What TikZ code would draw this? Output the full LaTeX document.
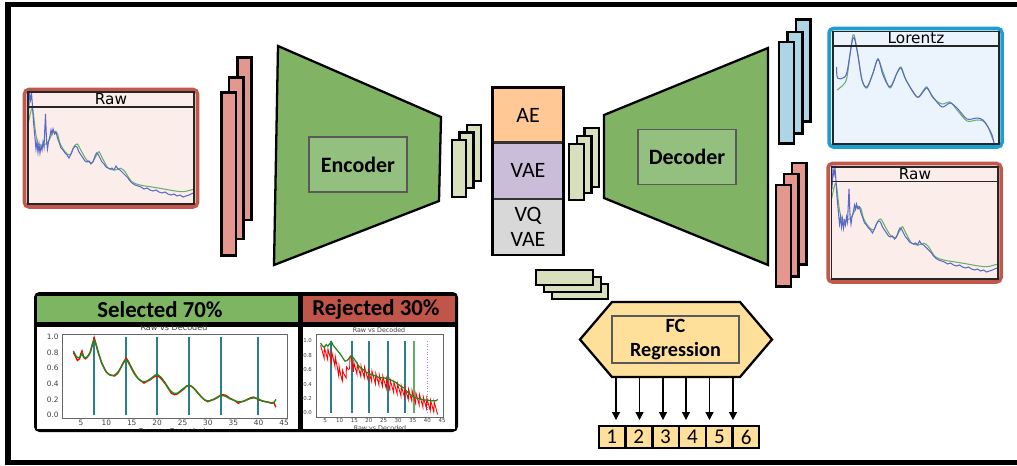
\documentclass[tikz,border=0pt]{standalone}
\usepackage{fontspec}
\setmainfont{Carlito}
\newfontfamily\plotfont{DejaVu Sans}
\usetikzlibrary{arrows.meta}
\definecolor{encgreen}{HTML}{80B464}
\definecolor{innergreen}{HTML}{93C07E}
\definecolor{redlay}{HTML}{E3978F}
\definecolor{bluelay}{HTML}{ADD5E5}
\definecolor{smallgreen}{HTML}{D7DFBD}
\definecolor{aecol}{HTML}{FFC894}
\definecolor{vaecol}{HTML}{CABDDA}
\definecolor{vqcol}{HTML}{D8D8D8}
\definecolor{fccol}{HTML}{FFE09A}
\definecolor{rawborder}{HTML}{C2574B}
\definecolor{rawfill}{HTML}{FAEDEA}
\definecolor{lorborder}{HTML}{1C9FCE}
\definecolor{lorfill}{HTML}{EBF3FD}
\definecolor{selgreen}{HTML}{7DB562}
\definecolor{rejred}{HTML}{C0554A}
\definecolor{specblue}{HTML}{5A68C8}
\definecolor{specgreen}{HTML}{6CAF6C}
\definecolor{vteal}{HTML}{2A7F8A}
\definecolor{mplgreen}{HTML}{1E8A1E}

\newcommand\rawspectrum{%
  \draw[spec,specgreen] plot[smooth,tension=0.5] coordinates {(0.3,31.3) (4.3,16.3) (7.7,41.3) (10.3,52) (15.3,53) (20.3,49.7) (25.3,39.7) (29.3,41.3) (32,51.3) (37,59.7) (42,63) (46,54.7) (49.3,52) (53.7,59.7) (58.7,68) (63.7,70.7) (68.7,63) (71,59.7) (75.3,68) (80.3,76.3) (87,78) (92.7,76.3) (97,79.7) (103.7,89.7) (112,93) (122,94.7) (132,96.3) (145.3,98.7) (155.3,99.7) (165.3,97.3)};
  \draw[spec,specblue] plot coordinates {(0.5,22) (1.5,2) (2.5,8) (3.5,1) (4.5,14) (5.5,30) (7,46) (8,57) (9,50) (10,60) (11,52) (12,61) (13,54) (14,58) (15,50) (16,55) (17.5,22) (18.5,48) (19.5,57) (20.5,50) (22,44) (23,38) (24,42) (25,37) (26.5,42) (28,40) (29.5,46) (31,50) (33,56) (35,58) (37,61) (39,63) (41,66) (43,62) (45,57) (47,54) (49,55) (51,60) (53,63) (55,66) (57,69) (59,70) (61,69) (63,72) (65,70) (67,64) (68.5,61) (70,62) (72,66) (74,70) (76,72) (78,75) (80,76) (82,77) (84,76) (86,78) (88,74) (90,77) (92,78) (94,80) (96,82) (98,84) (100,86) (102,89) (104,91) (107,93) (110,94) (113,95) (116,97) (119,96) (122,98) (125,99) (128,98) (131,100) (134,101) (137,100) (140,102) (143,103) (146,102) (149,104) (152,103) (155,105) (158,104) (161,103) (163,102) (165.5,101)};
}

\begin{document}
\begin{tikzpicture}[x=0.02cm,y=-0.02cm,
  layerbox/.style={draw=black,line width=1.5pt,line join=miter},
  redlayer/.style={layerbox,fill=redlay},
  bluelayer/.style={layerbox,fill=bluelay},
  greenlayer/.style={layerbox,fill=smallgreen},
  coder/.style={draw=black,line width=1.3pt,fill=encgreen,line join=miter},
  coderin/.style={draw=black!65,line width=0.6pt,fill=innergreen,minimum width=1.96cm,minimum height=1.1cm,inner sep=0pt,font=\fontsize{12.5}{15}\selectfont\bfseries},
  latent/.style={draw=black!80,line width=0.7pt,minimum width=1.4cm,inner sep=0pt,align=center,font=\fontsize{12.5}{15}\selectfont},
  plottitle/.style={font=\fontsize{8.7}{10}\selectfont\plotfont,inner sep=0pt,anchor=base},
  spec/.style={line width=0.6pt},
  tickl/.style={font=\fontsize{4.2}{5}\selectfont\plotfont,inner sep=0.6pt,text=black!75},
  tickr/.style={font=\fontsize{3.1}{4}\selectfont\plotfont,inner sep=0.4pt,text=black!75},
  header/.style={font=\fontsize{13}{15}\selectfont\bfseries,inner sep=0pt},
  numbox/.style={draw=black,line width=0.8pt,fill=fccol,minimum width=0.51cm,minimum height=0.44cm,inner sep=0pt,font=\fontsize{12}{14}\selectfont},
  arr/.style={-{Triangle[width=4.5pt,length=4.5pt]},line width=0.6pt}
]
\useasboundingbox (0,0) rectangle (1017,466);
\clip (0,0) rectangle (1017,466);
\fill[white] (0,0) rectangle (1017,466);
% outer frame (cut on the right)
\draw[line width=3pt] (1030,4.5) -- (8,4.5) -- (8,462.5) -- (1030,462.5);

% ---------- left Raw plot ----------
\draw[rawborder,line width=2pt,fill=rawfill,rounded corners=2.5pt] (24.5,89.5) rectangle (197.5,207);
\begin{scope}[shift={(28,92)}]
  \rawspectrum
\end{scope}
\draw[line width=0.7pt,black!85] (28,92) rectangle (194,204);
\draw[line width=0.7pt,black!85] (28,107) -- (194,107);
\node[plottitle] (rawL) at (111,104.3) {Raw};

% ---------- left red layers ----------
\draw[redlayer] (237.5,57.5) rectangle (251.5,220);
\draw[redlayer] (229,77.5) rectangle (243.5,239);
\draw[redlayer] (221.5,92.5) rectangle (236,255.5);

% ---------- encoder ----------
\draw[coder] (278,46) -- (441,117) -- (439,201) -- (274,265) -- cycle;
\node[coderin] (enc) at (358,164.5) {Encoder};

% ---------- small layers left of latent ----------
\draw[greenlayer] (467,125) rectangle (481,181);
\draw[greenlayer] (459.5,132.5) rectangle (473.5,188);
\draw[greenlayer] (452,140) rectangle (466,197);

% ---------- latent stack ----------
\node[latent,fill=aecol,minimum height=1.08cm] (ae) at (528,115) {AE};
\node[latent,fill=vaecol,minimum height=1.1cm,anchor=north] (vae) at (ae.south) {VAE};
\node[latent,fill=vqcol,minimum height=1.1cm,anchor=north] (vq) at (vae.south) {VQ\\[-1pt]VAE};
\draw[line width=1.5pt] (ae.north west) rectangle (vq.south east);

% ---------- small layers right of latent ----------
\draw[greenlayer] (584.5,128) rectangle (599,187);
\draw[greenlayer] (577,136) rectangle (591.5,193);
\draw[greenlayer] (569,144) rectangle (584,200);

% ---------- decoder ----------
\draw[coder] (604,115) -- (768,48) -- (768,265) -- (604,198) -- cycle;
\node[coderin] (dec) at (687,157) {Decoder};

% ---------- blue layers ----------
\draw[bluelayer] (796,19.5) rectangle (810.5,121.5);
\draw[bluelayer] (787.5,32) rectangle (802.5,133.5);
\draw[bluelayer] (779,42) rectangle (794,143.5);

% ---------- right red layers ----------
\draw[redlayer] (792,163) rectangle (806.5,264.5);
\draw[redlayer] (784,174) rectangle (798.5,276.5);
\draw[redlayer] (776,185) rectangle (791,286.5);

% ---------- Lorentz plot ----------
\draw[lorborder,line width=2pt,fill=lorfill,rounded corners=2.5pt] (829,28.5) rectangle (1002,147);
\draw[spec,specgreen] plot[smooth,tension=0.5] coordinates {(837,90) (843,85) (847,77) (853,35) (857,50) (862,80) (867,88) (873,73) (878,59) (883,72) (890,88) (897,73) (901,67) (906,80) (917,97) (923,91) (927,87) (933,98) (942,104) (950,102) (957,110) (967,121) (977,120) (983,121) (988,127) (993,140)};
\draw[spec,specblue] plot[smooth,tension=0.5] coordinates {(836.5,67) (837.5,78) (843,78) (847,72) (853,38) (857,50) (862,80) (867,87) (873,73) (878,59) (883,75) (890,87) (897,73) (901,68) (906,80) (917,97) (923,92) (927,88) (933,97) (942,107) (950,103) (957,108) (967,119) (977,118) (983,120) (988,127) (992,135) (994,143)};
\draw[line width=0.7pt,black!85] (833,31.5) rectangle (999,144);
\draw[line width=0.7pt,black!85] (833,46) -- (999,46);
\node[plottitle] (lor) at (916,44) {Lorentz};

% ---------- right Raw plot ----------
\draw[rawborder,line width=2pt,fill=rawfill,rounded corners=2.5pt] (828,163.5) rectangle (1001,282);
\begin{scope}[shift={(831.5,167)}]
  \rawspectrum
\end{scope}
\draw[line width=0.7pt,black!85] (831.5,167) rectangle (998,279);
\draw[line width=0.7pt,black!85] (831.5,181.5) -- (998,181.5);
\node[plottitle] (rawR) at (915,179) {Raw};

% ---------- bottom selection panel ----------
\fill[black,rounded corners=3pt] (34,292) rectangle (458,432);
\fill[selgreen] (37,295.5) rectangle (297.5,322);
\fill[rejred] (302.5,295.5) rectangle (454.5,322);
\fill[white] (37,326.5) rectangle (297.5,429);
\fill[white] (302.5,326.5) rectangle (454.5,429);
\node[header] (sel) at (160,309.5) {Selected 70\%};
\node[header] (rej) at (376,309.5) {Rejected 30\%};

% left plot
\begin{scope}
  \clip (37,326.5) rectangle (297.5,429);
  \node[tickl,font=\fontsize{4.6}{5}\selectfont\plotfont] (tl) at (174,327.5) {Raw vs Decoded};
  \node[tickl,font=\fontsize{4.6}{5}\selectfont\plotfont] (xl) at (172,431.5) {Raw vs Decoded};
  \draw[black!60,line width=0.4pt] (62,334) rectangle (287,418);
  \foreach \v/\t in {0/0.0,0.2/0.2,0.4/0.4,0.6/0.6,0.8/0.8,1/1.0}
    \node[tickl,anchor=east] at (60,{415-\v*78}) {\t};
  \foreach \d in {5,10,...,45}
    \node[tickl] at ({81+(\d-5)*5.075},423) {\d};
  \begin{scope}[shift={(55.625,415)},xscale=5.075,yscale=-78]
    \foreach \d in {7.6,13.9,20,26.3,32.6,39.9}
      \draw[vteal,line width=0.9pt] (\d,0) -- (\d,1);
    \draw[red,line width=0.8pt] plot coordinates {(3.5,0.80) (4.0,0.74) (4.3,0.70) (4.7,0.72) (5.0,0.79) (5.2,0.82) (5.5,0.74) (5.9,0.72) (6.3,0.75) (6.8,0.80) (7.3,0.92) (7.6,0.99) (8.0,0.90) (8.5,0.78) (9.0,0.68) (9.5,0.61) (10.0,0.55) (10.5,0.52) (11.0,0.51) (11.6,0.50) (12.2,0.53) (12.8,0.60) (13.4,0.68) (13.9,0.73) (14.4,0.68) (15.0,0.60) (15.6,0.53) (16.2,0.47) (16.8,0.44) (17.4,0.41) (18.0,0.43) (18.6,0.45) (19.2,0.48) (19.8,0.50) (20.4,0.49) (21.0,0.45) (21.6,0.40) (22.2,0.34) (22.8,0.28) (23.4,0.26) (24.0,0.27) (24.6,0.30) (25.2,0.33) (25.8,0.37) (26.4,0.38) (27.0,0.36) (27.6,0.32) (28.2,0.27) (28.8,0.23) (29.4,0.19) (30.0,0.17) (30.6,0.19) (31.2,0.20) (31.8,0.22) (32.4,0.25) (33.0,0.26) (33.6,0.25) (34.2,0.22) (34.8,0.20) (35.4,0.18) (36.0,0.15) (36.6,0.17) (37.2,0.18) (37.8,0.20) (38.4,0.22) (39.0,0.23) (39.6,0.21) (40.2,0.19) (40.8,0.18) (41.4,0.17) (42.0,0.16) (42.6,0.15) (43.0,0.16) (43.4,0.10)};
    \draw[mplgreen,line width=0.8pt] plot[smooth,tension=0.4] coordinates {(3.5,0.82) (4.2,0.74) (4.8,0.74) (5.2,0.79) (5.6,0.74) (6.2,0.74) (6.8,0.80) (7.6,0.96) (8.4,0.80) (9.2,0.65) (10.0,0.55) (10.8,0.51) (11.6,0.51) (12.4,0.56) (13.2,0.65) (13.9,0.71) (14.6,0.64) (15.4,0.54) (16.2,0.47) (17.0,0.43) (17.8,0.43) (18.6,0.46) (19.4,0.50) (20.0,0.52) (20.8,0.48) (21.6,0.41) (22.4,0.33) (23.2,0.28) (24.0,0.28) (24.8,0.32) (25.6,0.36) (26.3,0.38) (27.1,0.35) (27.9,0.29) (28.7,0.23) (29.5,0.19) (30.3,0.18) (31.1,0.20) (31.9,0.23) (32.7,0.25) (33.5,0.24) (34.3,0.21) (35.1,0.19) (35.9,0.17) (36.7,0.17) (37.5,0.19) (38.3,0.21) (39.1,0.22) (39.9,0.21) (40.7,0.18) (41.5,0.17) (42.3,0.16) (43.0,0.16) (43.4,0.20)};
  \end{scope}
\end{scope}

% right plot
\begin{scope}
  \clip (302.5,326.5) rectangle (454.5,429);
  \node[tickr,font=\fontsize{3.6}{4}\selectfont\plotfont] (tr) at (379,330) {Raw vs Decoded};
  \node[tickr,font=\fontsize{3.6}{4}\selectfont\plotfont] (xr) at (380,428.5) {Raw vs Decoded};
  \draw[black!60,line width=0.4pt] (316,334) rectangle (443,417);
  \foreach \v/\t in {0/0.0,0.2/0.2,0.4/0.4,0.6/0.6,0.8/0.8,1/1.0}
    \node[tickr,anchor=east] at (313,{413-\v*72}) {\t};
  \foreach \d in {5,10,...,45}
    \node[tickr] at ({325+(\d-5)*2.925},421) {\d};
  \begin{scope}[shift={(310.375,413)},xscale=2.925,yscale=-72]
    \foreach \d/\c in {7.05/vteal,14.2/vteal,20/vteal,26.5/vteal,32.4/vteal,35.4/mplgreen!70}
      \draw[\c,line width=0.8pt] (\d,0) -- (\d,1);
    \draw[blue!45,line width=0.5pt,densely dotted] (39.9,0) -- (39.9,1);
    \draw[red,line width=0.5pt] plot[domain=3.5:43.5,samples=400] (\x,{max(0.04,0.88-0.02*(\x-3.5)) - 0.2*exp(-((\x-10.8)/2.0)*((\x-10.8)/2.0)) + 0.12*exp(-((\x-13.9)/0.6)*((\x-13.9)/0.6)) + 0.06 - 0.16*mod(\x-3.5,1.25)/1.25});
    \draw[mplgreen,line width=0.7pt] plot coordinates {(3.5,0.97) (4.2,0.93) (4.8,0.91) (5.4,0.95) (6.0,0.93) (6.6,0.96) (7.2,0.99) (7.8,0.94) (8.6,0.90) (9.4,0.86) (10.2,0.82) (11.0,0.77) (11.8,0.72) (12.6,0.73) (13.4,0.77) (14.2,0.79) (15.0,0.75) (15.8,0.70) (16.6,0.65) (17.4,0.62) (18.2,0.60) (19.0,0.57) (20.0,0.55) (21.0,0.53) (22.0,0.52) (23.0,0.50) (24.0,0.49) (25.0,0.49) (26.0,0.48) (27.0,0.47) (28.0,0.45) (29.0,0.43) (30.0,0.40) (31.0,0.37) (32.0,0.35) (33.0,0.30) (34.0,0.26) (35.0,0.23) (36.0,0.21) (37.0,0.20) (38.0,0.19) (39.0,0.18) (40.0,0.18) (41.0,0.17) (42.0,0.17) (43.0,0.17) (43.5,0.19)};
  \end{scope}
\end{scope}

% ---------- FC regression ----------
\draw[greenlayer] (552,284) rectangle (608,299);
\draw[greenlayer] (544,277) rectangle (601,292);
\draw[greenlayer] (536,270) rectangle (593,285);

\draw[draw=black,line width=1.3pt,fill=fccol,line join=miter] (580,339.5) -- (612,302) -- (740,302) -- (772,339.5) -- (740,377) -- (612,377) -- cycle;
\coordinate (hexbot) at (676,377);
\node[draw=black!65,line width=0.6pt,minimum width=2.54cm,minimum height=0.94cm,inner sep=0pt,align=center,font=\fontsize{11.5}{14}\selectfont\bfseries] (fc) at (675.5,339.5) {FC\\Regression};

\node[numbox] (n1) at (611.75,437) {1};
\foreach \i [remember=\i as \j (initially 1)] in {2,...,6}
  \node[numbox,anchor=west] (n\i) at (n\j.east) {\i};

\foreach \i/\xx in {1/616,2/639.5,3/663,4/686,5/709.5,6/733}{
  \coordinate (h\i) at (\xx,377);
  \draw[arr] (h\i) -- (h\i |- n\i.north) [shorten >=3pt];
}
\end{tikzpicture}
\end{document}
